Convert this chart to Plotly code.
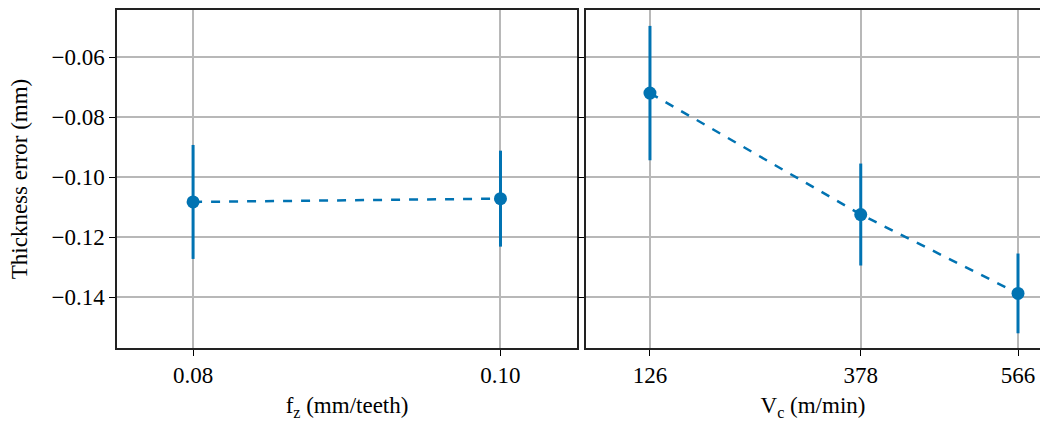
import plotly.graph_objects as go

fz = [0.08, 0.10]
fz_err_mean = [-0.1083, -0.1072]
fz_err_sd = [0.0190, 0.0160]

vc = [126, 378, 566]
vc_err_mean = [-0.0720, -0.1125, -0.1388]
vc_err_sd = [0.0224, 0.0170, 0.0133]

y_ticks = [-0.06, -0.08, -0.10, -0.12, -0.14]
y_ticktext = ["\u22120.06", "\u22120.08", "\u22120.10", "\u22120.12", "\u22120.14"]
fz_ticktext = ["0.08", "0.10"]
vc_ticktext = ["126", "378", "566"]

C = "#0173B2"
FONT = "Liberation Serif, Times New Roman, DejaVu Serif, serif"
FS = 23

fig = go.Figure()
fig.add_trace(go.Scatter(
    x=fz, y=fz_err_mean, mode="lines+markers",
    line=dict(color=C, width=2.5, dash="dash"),
    marker=dict(color=C, size=13),
    error_y=dict(type="data", array=fz_err_sd, color=C, thickness=3, width=0),
    xaxis="x", yaxis="y", showlegend=False))
fig.add_trace(go.Scatter(
    x=vc, y=vc_err_mean, mode="lines+markers",
    line=dict(color=C, width=2.5, dash="dash"),
    marker=dict(color=C, size=13),
    error_y=dict(type="data", array=vc_err_sd, color=C, thickness=3, width=0),
    xaxis="x2", yaxis="y2", showlegend=False))

yr = [-0.1570, -0.0443]
common = dict(showgrid=True, gridcolor="#b8b8b8", gridwidth=1.5, zeroline=False,
              ticks="outside", ticklen=6, tickwidth=1.3, tickcolor="#000",
              linecolor="#222", linewidth=1.5,
              tickfont=dict(family=FONT, size=FS, color="#000"))

fig.update_layout(
    width=1040, height=421,
    margin=dict(l=117, r=0, t=10, b=73),
    paper_bgcolor="white", plot_bgcolor="white",
    font=dict(family=FONT, size=FS, color="#000"),
    xaxis=dict(domain=[0, 0.4984], range=[0.07505, 0.10498], tickvals=fz, ticktext=fz_ticktext,
               showline=True, mirror=True,
               title=dict(text="f<sub>z</sub> (mm/teeth)", font=dict(family=FONT, size=FS), standoff=10),
               anchor="y", **common),
    yaxis=dict(domain=[0, 1], range=yr, tickvals=y_ticks, ticktext=y_ticktext,
               showline=True, mirror=True, anchor="x",
               title=dict(text="Thickness error (mm)", font=dict(family=FONT, size=FS), standoff=17), **common),
    xaxis2=dict(domain=[0.5081, 1], range=[49.5, 592.3], tickvals=vc, ticktext=vc_ticktext,
                showline=True, mirror=True, anchor="y2",
                title=dict(text="V<sub>c</sub> (m/min)", font=dict(family=FONT, size=FS), standoff=10), **common),
    yaxis2=dict(domain=[0, 1], range=yr, tickvals=y_ticks, showticklabels=False,
                showline=True, mirror=False, anchor="x2", **common),
)

fig.write_html("out.html")
